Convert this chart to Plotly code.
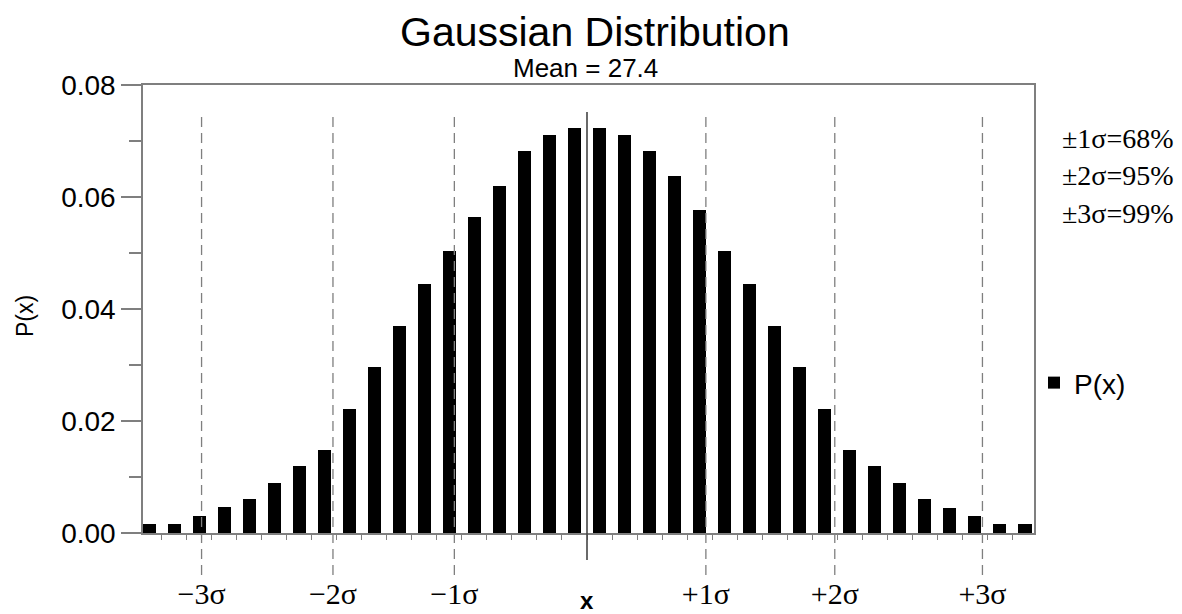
import plotly.graph_objects as go

# ---- data ----
x_centers = [9.9, 10.9, 11.9, 12.9, 13.9, 14.9, 15.9, 16.9, 17.9, 18.9, 19.9, 20.9,
             21.9, 22.9, 23.9, 24.9, 25.9, 26.9, 27.9, 28.9, 29.9, 30.9, 31.9, 32.9,
             33.9, 34.9, 35.9, 36.9, 37.9, 38.9, 39.9, 40.9, 41.9, 42.9, 43.9, 44.9]
p_values = [0.0016, 0.0016, 0.0031, 0.0047, 0.0060, 0.0090, 0.0120, 0.0148, 0.0221,
            0.0296, 0.0370, 0.0445, 0.0503, 0.0564, 0.0620, 0.0682, 0.0710, 0.0724,
            0.0724, 0.0710, 0.0683, 0.0637, 0.0577, 0.0503, 0.0445, 0.0370, 0.0296,
            0.0221, 0.0148, 0.0120, 0.0090, 0.0060, 0.0045, 0.0031, 0.0016, 0.0016]
mean_value = 27.4
sigma_positions = [12.0, 17.25, 22.1, 32.15, 37.3, 43.2]
sigma_labels = ["\u22123\u03c3", "\u22122\u03c3", "\u22121\u03c3", "+1\u03c3", "+2\u03c3", "+3\u03c3"]
coverage_text = ["\u00b11\u03c3=68%", "\u00b12\u03c3=95%", "\u00b13\u03c3=99%"]
y_ticks = [0.0, 0.02, 0.04, 0.06, 0.08]

bar_edges = [c + 0.5 for c in x_centers[:-1]]

AX = "#7f7f7f"
SANS = "Liberation Sans, Arial, sans-serif"
SERIF = "Liberation Serif, Times New Roman, serif"

fig = go.Figure()
fig.add_trace(go.Bar(x=x_centers, y=p_values, width=0.52, name="P(x)",
                     marker=dict(color="black", line=dict(width=0)),
                     showlegend=True))
fig.add_trace(go.Scatter(x=sigma_positions, y=[None]*len(sigma_positions), xaxis="x2",
                         mode="markers", showlegend=False, hoverinfo="skip"))

xr = [9.66, 45.26]
# page body adds an 8px offset; margins compensate
fig.update_layout(
    width=1182, height=614,
    margin=dict(l=135, r=156, t=77, b=89, autoexpand=False),
    paper_bgcolor="white", plot_bgcolor="white",
    bargap=0,
    font=dict(family=SANS, color="black"),
    xaxis=dict(range=xr, showgrid=False, zeroline=False, showline=True, linecolor=AX,
               linewidth=1.5, mirror=True, tickmode="array", tickvals=bar_edges,
               ticks="outside", ticklen=5, tickcolor=AX, tickwidth=1.3,
               showticklabels=False, automargin=False),
    xaxis2=dict(range=xr, overlaying="x", side="bottom", showgrid=False, zeroline=False,
                showline=False, tickmode="array", tickvals=sigma_positions,
                ticktext=sigma_labels, ticks="", ticklabelstandoff=40,
                tickfont=dict(family=SERIF, size=30, color="black"), automargin=False),
    yaxis=dict(range=[0, 0.08], showgrid=False, zeroline=False, showline=True,
               linecolor=AX, linewidth=1.5, mirror=True, tickmode="array",
               tickvals=y_ticks, tickformat=".2f", ticks="outside", ticklen=20,
               tickcolor=AX, tickwidth=1.5, automargin=False,
               tickfont=dict(family=SANS, size=28, color="black"),
               minor=dict(dtick=0.01, tick0=0, ticks="outside", ticklen=12,
                          tickcolor=AX, tickwidth=1.5)),
    legend=dict(x=1.0, y=0.335, xanchor="left", yanchor="middle",
                font=dict(family=SANS, size=28, color="black"),
                bgcolor="rgba(0,0,0,0)"),
)

shapes = []
for sp in sigma_positions:
    shapes.append(dict(type="line", xref="x", yref="paper", x0=sp, x1=sp,
                       y0=-0.094, y1=0.9375,
                       line=dict(color=AX, width=1.3, dash="10px,6px")))
shapes.append(dict(type="line", xref="x", yref="paper", x0=mean_value, x1=mean_value,
                   y0=-0.06, y1=0.94, line=dict(color="#444444", width=1.6)))
fig.update_layout(shapes=shapes)

annotations = [
    dict(text="Gaussian Distribution", xref="paper", yref="paper", x=0.507,
         y=(533 - 32) / 448, xanchor="center", yanchor="middle", showarrow=False,
         font=dict(family=SANS, size=41, color="black")),
    dict(text="Mean = 27.4", xref="paper", yref="paper", x=0.497,
         y=(533 - 68) / 448, xanchor="center", yanchor="middle", showarrow=False,
         font=dict(family=SANS, size=26, color="black")),
    dict(text="P(x)", xref="paper", yref="paper", x=(25 - 143) / 891,
         y=(533 - 316) / 448, xanchor="center", yanchor="middle", textangle=-90,
         showarrow=False, font=dict(family=SANS, size=23, color="black")),
    dict(text="<b>x</b>", xref="x", yref="paper", x=mean_value,
         y=(533 - 600) / 448, xanchor="center", yanchor="middle", showarrow=False,
         font=dict(family=SANS, size=24, color="black")),
]
for i, t in enumerate(coverage_text):
    annotations.append(dict(text=t, xref="paper", yref="paper", x=(1060 - 143) / 891,
                            y=(533 - (138 + 37.5 * i)) / 448, xanchor="left",
                            yanchor="middle", showarrow=False,
                            font=dict(family=SERIF, size=28, color="black")))
fig.update_layout(annotations=annotations)

fig.write_html("out.html")
